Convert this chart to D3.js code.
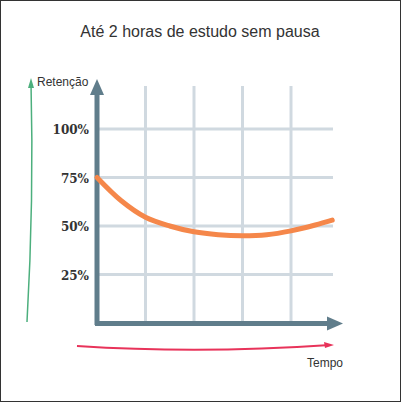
<!DOCTYPE html><html><head><script src="https://cdn.jsdelivr.net/npm/d3@7"></script>
<style>body{margin:0}</style></head><body><script>
const yTicks=[25,50,75,100];
const yLabels=["25%","50%","75%","100%"];
const xGrid=[1,2,3,4];
const curveX=[0,0.5,1,1.5,2,2.5,3,3.5,4,4.5,4.85];
const curveY=[75,63,54.5,50,47,45.5,45,45.5,47.5,50.5,53];
const svg=d3.select("body").append("svg").attr("width",401).attr("height",402);
svg.append("rect").attr("x",0.5).attr("y",0.5).attr("width",400).attr("height",401).attr("fill","#fff").attr("stroke","#333");
const x=d3.scaleLinear().domain([0,5]).range([97,339.5]);
const y=d3.scaleLinear().domain([0,100]).range([323,129]);
svg.append("text").attr("x",200).attr("y",37).attr("text-anchor","middle").attr("font-family","Liberation Sans, Arial").attr("font-size",16).attr("fill","#333").text("Até 2 horas de estudo sem pausa");
const g=svg.append("g");
yTicks.forEach(t=>g.append("line").attr("x1",97).attr("x2",333).attr("y1",y(t)).attr("y2",y(t)).attr("stroke","#d0d9e0").attr("stroke-width",3));
xGrid.forEach(t=>g.append("line").attr("x1",x(t)).attr("x2",x(t)).attr("y1",86).attr("y2",323).attr("stroke","#d0d9e0").attr("stroke-width",3));
yTicks.forEach((t,i)=>svg.append("text").attr("x",89).attr("y",y(t)+5).attr("text-anchor","end").attr("font-family","DejaVu Serif, serif").attr("font-weight","bold").attr("font-size",12).attr("fill","#333").text(yLabels[i]));
const ax="#607d8b";
svg.append("line").attr("x1",97).attr("x2",97).attr("y1",325).attr("y2",92).attr("stroke",ax).attr("stroke-width",5);
svg.append("path").attr("d","M97,79 L90,95 L104,95 Z").attr("fill",ax);
svg.append("line").attr("x1",95).attr("x2",330).attr("y1",323.5).attr("y2",323.5).attr("stroke",ax).attr("stroke-width",5);
svg.append("path").attr("d","M343,323.5 L327,316.5 L327,330.5 Z").attr("fill",ax);
const pts=curveX.map((d,i)=>[x(d),y(curveY[i])]);
svg.append("path").attr("d",d3.line().curve(d3.curveCatmullRom)(pts)).attr("fill","none").attr("stroke","#f5874a").attr("stroke-width",5).attr("stroke-linecap","round");
svg.append("path").attr("d","M27,322 Q34,200 31,82").attr("fill","none").attr("stroke","#4caf7d").attr("stroke-width",1.5);
svg.append("path").attr("d","M31,78 L28,88 L34,88 Z").attr("fill","#4caf7d");
svg.append("path").attr("d","M77,346 Q200,354 330,345").attr("fill","none").attr("stroke","#e8335a").attr("stroke-width",1.8);
svg.append("path").attr("d","M334,345 L324,342 L325,348 Z").attr("fill","#e8335a");
svg.append("text").attr("x",37).attr("y",86).attr("font-family","Liberation Sans, Arial").attr("font-size",12).attr("fill","#333").text("Retenção");
svg.append("text").attr("x",307).attr("y",367).attr("font-family","Liberation Sans, Arial").attr("font-size",12).attr("fill","#333").text("Tempo");
</script></body></html>
